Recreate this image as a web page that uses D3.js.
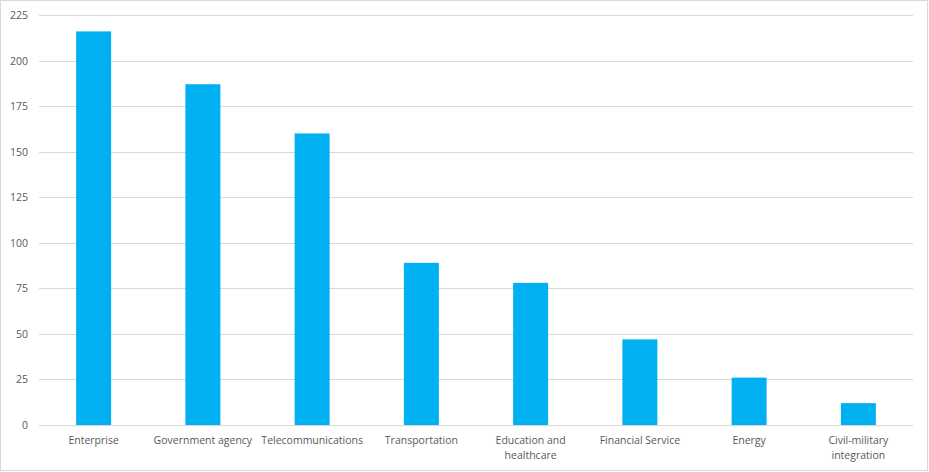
<!DOCTYPE html>
<html><head><meta charset="utf-8">
<script src="https://cdn.jsdelivr.net/npm/d3@7"></script>
<style>
html,body{margin:0;padding:0;background:#fff;}
svg{display:block;}
text{font-family:"Open Sans","Noto Sans",sans-serif;font-size:10.5px;fill:#595959;}
</style></head><body>
<svg id="c" width="929" height="472"></svg>
<script>
const categories = ["Enterprise","Government agency","Telecommunications","Transportation","Education and healthcare","Financial Service","Energy","Civil-military integration"];
const values = [216,187,160,89,78,47,26,12];
const yTicks = [0,25,50,75,100,125,150,175,200,225];
const labelLines = [["Enterprise"],["Government agency"],["Telecommunications"],["Transportation"],["Education and","healthcare"],["Financial Service"],["Energy"],["Civil-military","integration"]];

(function(){
const svg = d3.select("#c");
svg.append("rect").attr("x",0.5).attr("y",0.5).attr("width",927).attr("height",470)
  .attr("fill","#fff").attr("stroke","#d9d9d9");

const pLeft=39, pRight=913, pTop=15, pBottom=425;
const x = d3.scaleBand().domain(categories).range([pLeft,pRight]).paddingInner(0.68).paddingOuter(0.34);
const y = d3.scaleLinear().domain([0,225]).range([pBottom,pTop]);

svg.append("g").selectAll("line").data(yTicks).join("line")
  .attr("x1",pLeft).attr("x2",pRight)
  .attr("y1",d=>Math.round(y(d))+0.5).attr("y2",d=>Math.round(y(d))+0.5)
  .attr("stroke","#d9d9d9").attr("stroke-width",1);

svg.append("g").selectAll("text").data(yTicks).join("text")
  .attr("x",28).attr("y",d=>y(d)+4).attr("text-anchor","end").text(d=>d);

svg.append("g").selectAll("rect").data(values).join("rect")
  .attr("x",(d,i)=>x(categories[i])).attr("width",x.bandwidth())
  .attr("y",d=>y(d)).attr("height",d=>pBottom-y(d)).attr("fill","#00b0f0");

const lg = svg.append("g");
categories.forEach((c,i)=>{
  const t = lg.append("text").attr("text-anchor","middle")
    .attr("x",x(c)+x.bandwidth()/2).attr("y",444);
  labelLines[i].forEach((l,j)=>{
    t.append("tspan").attr("x",x(c)+x.bandwidth()/2).attr("dy",j?15:0).text(l);
  });
});
})();
</script></body></html>
